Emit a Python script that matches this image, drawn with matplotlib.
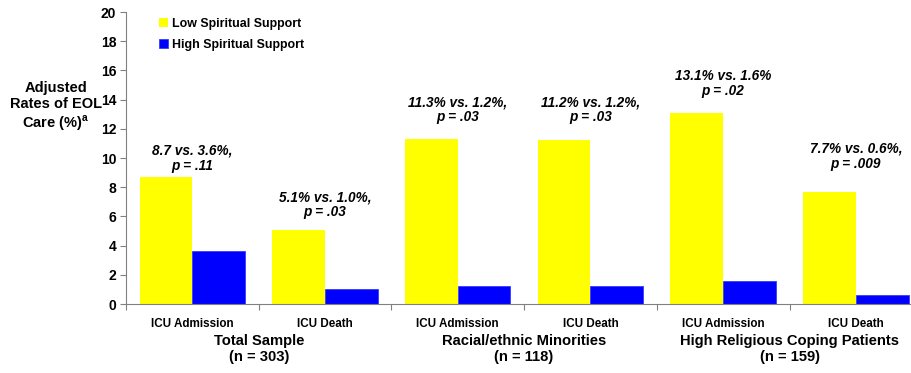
import numpy as np
import matplotlib.pyplot as plt

plt.rcParams['font.family'] = ['Liberation Sans', 'DejaVu Sans']
plt.rcParams['font.weight'] = 'bold'
plt.rcParams['mathtext.fontset'] = 'custom'
plt.rcParams['mathtext.bf'] = 'Liberation Sans:bold'
plt.rcParams['mathtext.rm'] = 'Liberation Sans:bold'

categories = ['ICU Admission', 'ICU Death'] * 3
groups = ['Total Sample\n(n = 303)', 'Racial/ethnic Minorities\n(n = 118)',
          'High Religious Coping Patients\n(n = 159)']
low_support = [8.7, 5.1, 11.3, 11.2, 13.1, 7.7]
high_support = [3.6, 1.0, 1.2, 1.2, 1.6, 0.6]
p_values = ['.11', '.03', '.03', '.03', '.02', '.009']
series_names = ['Low Spiritual Support', 'High Spiritual Support']

# where each comparison note sits (data units)
note_y = [10.0, 6.8, 13.3, 13.3, 15.1, 10.1]

W, H = 911, 373
fig = plt.figure(figsize=(W / 100, H / 100), dpi=100)
ax = fig.add_axes([126 / W, (H - 304) / H, 6 * 132.7 / W, 292 / H])

x = np.arange(len(categories))
w = 0.397
b1 = ax.bar(x - w / 2, low_support, w, color='#ffff00', label=series_names[0])
b2 = ax.bar(x + w / 2, high_support, w, color='#0000ff', edgecolor='#3a3aff',
            linewidth=0.6, label=series_names[1])

for i in range(len(categories)):
    pct = '' if i == 0 else '%'
    sep = ',' if i != 4 else ''
    txt = '%.1f%s vs. %.1f%%%s\np = %s' % (low_support[i], pct, high_support[i], sep, p_values[i])
    ax.text(x[i], note_y[i], txt, ha='center', va='center', fontsize=9.8,
            fontstyle='italic', fontweight='bold', linespacing=1.1)

ax.set_xlim(-0.5, len(categories) - 0.5)
ax.set_ylim(0, 20)
ax.set_yticks(np.arange(0, 21, 2))
ax.set_xticks(x)
ax.set_xticklabels(categories, fontsize=8.4, fontweight='bold')
ax.set_xticks(np.arange(-0.5, len(categories), 1), minor=True)
ax.tick_params(axis='x', which='major', length=0, pad=10)
ax.tick_params(axis='x', which='minor', length=4, color='#808080', width=0.8)
ax.tick_params(axis='y', length=4, color='#808080', width=0.8, labelsize=10, pad=3)
for lab in ax.get_yticklabels():
    lab.set_fontweight('bold')
for s in ['top', 'right']:
    ax.spines[s].set_visible(False)
for s in ['left', 'bottom']:
    ax.spines[s].set_color('#808080')
    ax.spines[s].set_linewidth(0.8)

for g, name in enumerate(groups):
    ax.text(2 * g + 0.5, -0.155, name, transform=ax.get_xaxis_transform(),
            ha='center', va='center', fontsize=10.6, fontweight='bold', linespacing=1.15)

fig.text(56 / W, 1 - 107 / H, 'Adjusted\nRates of EOL\nCare (%)$^{\\mathbf{a}}$',
         ha='center', va='center', fontsize=10.5, fontweight='bold', linespacing=1.15)

ax.legend(handles=[b1, b2], loc='upper left', bbox_to_anchor=(0.041, 0.98),
          frameon=False, handlelength=0.75, handleheight=0.75,
          handletextpad=0.3, labelspacing=0.75, borderpad=0, borderaxespad=0,
          prop={'weight': 'bold', 'size': 8.9})

fig.savefig('out.png', dpi=100)
